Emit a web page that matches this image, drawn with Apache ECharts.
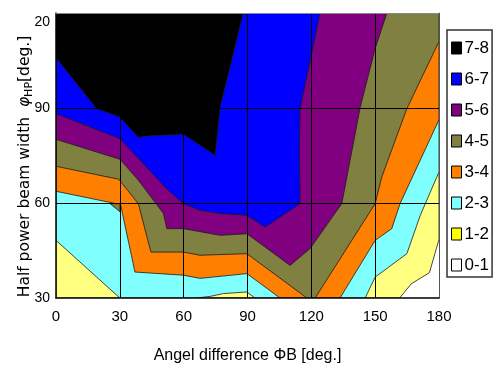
<!DOCTYPE html>
<html><head><meta charset="utf-8">
<script src="https://cdn.jsdelivr.net/npm/echarts@6/dist/echarts.min.js"></script>
<style>html,body{margin:0;padding:0;background:#fff}#c{width:500px;height:365px}</style>
</head><body><div id="c"></div><script>
// ---- data ----
const levels = ['0-1','1-2','2-3','3-4','4-5','5-6','6-7','7-8'];
const xTickLabels = ['0','30','60','90','120','150','180'];
const yTickLabels = ['30','60','90','20'];
// lower boundary of the region where value >= level k (x = angle difference, y = beam width)
const bound0 = [[0,30],[180,30]];
const bound1 = [[0,30],[161.5,30],[167,34.5],[175.5,38],[180,48.5]];
const bound2 = [[0,48.2],[30,30],[66,30],[72.4,30.5],[78.7,31.4],[89.7,31.9],[93.5,30],[145.3,30],[150,36.6],[164.9,44],[171.2,56.1],[180,69.8]];
const bound3 = [[0,63.7],[26.8,60],[30.4,59.3],[37.1,38.2],[59.9,37.2],[67.7,36.2],[89.7,37.7],[105.3,30],[133.5,30],[150,48.2],[157.8,51.9],[161.7,59.8],[180,86.3]];
const bound4 = [[0,71.6],[29.5,67.5],[38.7,59.8],[44.6,44.5],[59.9,44.5],[67.7,43.5],[89.7,44],[117.9,30],[121.8,30],[150,59.8],[153.1,68.2],[164.9,89.8],[180,111]];
const islet4 = [[25.4,59.8],[30.1,59.8],[30.1,57.2]];
const bound5 = [[0,80.1],[30.1,73.8],[38.7,67.2],[50.5,56.7],[52.1,51.9],[59.9,51.9],[77.1,49.8],[89.7,50.3],[110,40.3],[119.4,45.6],[134.3,59.8],[143,90.3],[150,108.8],[155.5,120]];
const bound6 = [[0,88.2],[30.1,80.3],[52,64.5],[59.9,59.8],[67.7,57.7],[77.1,56.7],[89.7,56.1],[98.3,52.4],[114.7,59.8],[114.4,77.7],[114.7,89.8],[124.1,120]];
const bound7 = [[0,105.9],[19.1,89.8],[29.8,87.2],[38.7,80.8],[44.2,81.2],[59.9,81.7],[74.8,75.1],[77.1,90.2],[82.6,105.1],[87.9,120]];

// ---- styles ----
const colors = ['#FFFFFF','#FFFF80','#80FFFF','#FF8000','#808040','#800080','#0000FF','#000000'];
const legendColors = ['#FFFFFF','#FFFF00','#80FFFF','#FF8000','#808040','#800080','#0000FF','#000000'];
const FONT = "'Liberation Sans',Arial,sans-serif";

function closeTop(b){
  const pts = b.slice();
  const last = pts[pts.length-1];
  if (last[0] >= 180 && last[1] < 120) pts.push([180,120]);
  pts.push([0,120]);
  return pts;
}
const regionPolys = [
  [closeTop(bound0)],
  [closeTop(bound1)],
  [closeTop(bound2)],
  [closeTop(bound3)],
  [closeTop(bound4), islet4],
  [closeTop(bound5)],
  [closeTop(bound6)],
  [closeTop(bound7)]
];

const series = levels.map((name, k) => {
  const polys = regionPolys[k];
  return {
    name: name,
    type: 'custom',
    coordinateSystem: 'cartesian2d',
    xAxisIndex: 0, yAxisIndex: 0,
    clip: true,
    silent: true,
    z: 2 + k * 0.01,
    itemStyle: { color: colors[k] },
    data: polys.map(p => p[0]),
    renderItem: function (params, api) {
      const poly = polys[params.dataIndex];
      const points = poly.map(p => api.coord(p));
      return {
        type: 'polygon',
        shape: { points: points },
        style: { fill: colors[k], stroke: k === 0 ? null : '#1a1a1a', lineWidth: k === 0 ? 0 : 0.8 }
      };
    }
  };
});

const chart = echarts.init(document.getElementById('c'), null, { renderer: 'canvas' });
chart.setOption({
  animation: false,
  backgroundColor: '#fff',
  grid: { left: 56, right: 61, top: 13, bottom: 67, containLabel: false, outerBoundsMode: 'none' },
  legend: {
    orient: 'vertical',
    left: 447, top: 30,
    padding: [9, 3, 3, 4],
    itemGap: 13,
    itemWidth: 10, itemHeight: 12,
    icon: 'rect',
    borderColor: '#333', borderWidth: 1.5,
    selectedMode: false,
    itemStyle: { borderColor: '#000', borderWidth: 1 },
    textStyle: { fontFamily: FONT, fontSize: 17, color: '#000', lineHeight: 18, padding: [0, 0, 0, -2] },
    data: levels.slice().reverse().map(n => ({ name: n, itemStyle: { color: legendColors[levels.indexOf(n)], borderColor: '#000', borderWidth: 1 } }))
  },
  xAxis: [{
    type: 'value', min: 0, max: 180, interval: 30, position: 'bottom', z: 10,
    axisLine: { show: true, onZero: false, lineStyle: { color: '#000', width: 1.5 } },
    axisTick: { show: false },
    splitLine: { show: true, showMinLine: false, showMaxLine: false, lineStyle: { color: '#000', width: 1 } },
    axisLabel: { fontFamily: FONT, fontSize: 15, color: '#000', margin: 11,
      formatter: v => xTickLabels[Math.round(v / 30)] },
    name: 'Angel difference ΦB [deg.]',
    nameLocation: 'middle', nameGap: 50, nameMoveOverlap: false,
    nameTextStyle: { fontFamily: FONT, fontSize: 16, color: '#000' }
  }, {
    type: 'value', min: 0, max: 180, interval: 30, position: 'top', z: 10,
    axisLine: { show: true, onZero: false, lineStyle: { color: '#888', width: 1 } },
    axisTick: { show: false }, axisLabel: { show: false }, splitLine: { show: false }
  }],
  yAxis: [{
    type: 'value', min: 30, max: 120, interval: 30, position: 'left', z: 10,
    axisLine: { show: true, onZero: false, lineStyle: { color: '#000', width: 1.5 } },
    axisTick: { show: false },
    splitLine: { show: true, showMinLine: false, showMaxLine: false, lineStyle: { color: '#000', width: 1 } },
    axisLabel: {
      fontFamily: FONT, fontSize: 14, color: '#000', margin: 6,
      formatter: v => {
        const s = yTickLabels[Math.round((v - 30) / 30)];
        return v >= 120 ? '{t|' + s + '}' : s;
      },
      rich: { t: { fontFamily: FONT, fontSize: 14, color: '#000', padding: [18, 0, 0, 0] } }
    },
    name: '{a|Half power beam width  }{p|φ}{s|HP}{e|[deg.]}',
    nameLocation: 'middle', nameRotate: 90, nameGap: 21, nameMoveOverlap: false,
    nameTextStyle: {
      rich: {
        a: { fontFamily: 'DejaVu Sans', fontSize: 15.5, color: '#000', lineHeight: 20 },
        e: { fontFamily: 'DejaVu Sans', fontSize: 15.5, color: '#000', lineHeight: 20, padding: [0, 22, 0, 0] },
        p: { fontFamily: 'DejaVu Sans', fontSize: 15.5, fontStyle: 'italic', color: '#000', lineHeight: 20 },
        s: { fontFamily: 'DejaVu Sans', fontSize: 11, color: '#000', lineHeight: 20, verticalAlign: 'bottom', padding: [6, 0, 0, 0] }
      }
    }
  }, {
    type: 'value', min: 30, max: 120, interval: 30, position: 'right', z: 10,
    axisLine: { show: true, onZero: false, lineStyle: { color: '#555', width: 1 } },
    axisTick: { show: false }, axisLabel: { show: false }, splitLine: { show: false }
  }],
  series: series
});
</script></body></html>
